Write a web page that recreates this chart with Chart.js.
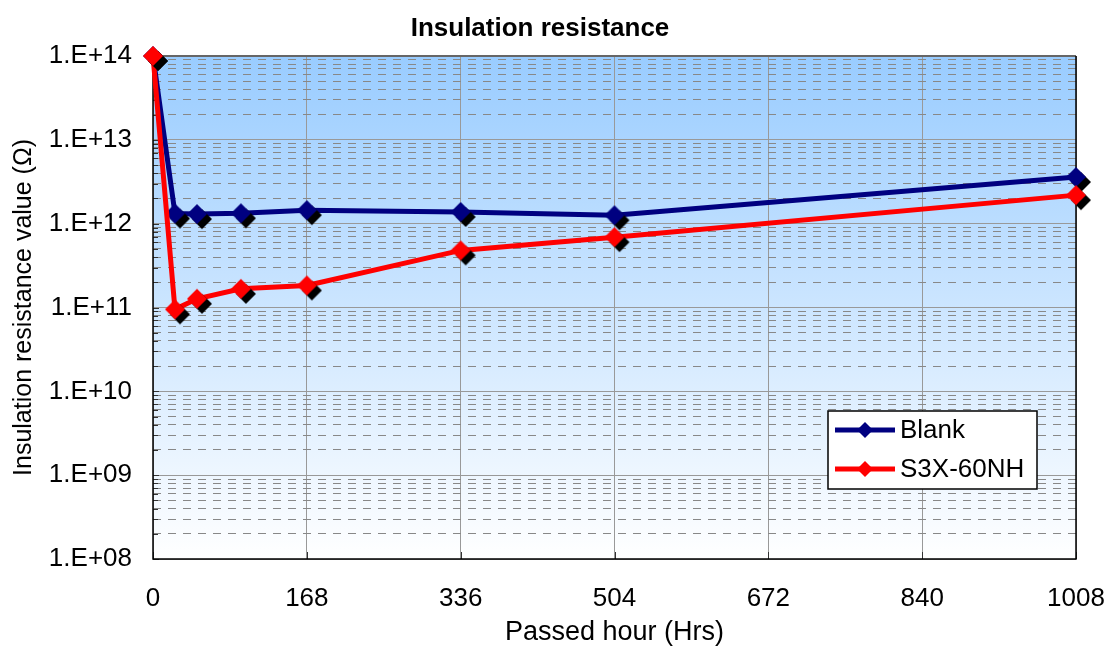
<!DOCTYPE html>
<html>
<head>
<meta charset="utf-8">
<script src="https://cdn.jsdelivr.net/npm/chart.js@4.4.1/dist/chart.umd.min.js"></script>
<style>
  html, body { margin: 0; padding: 0; background: #fff; }
  #wrap { width: 1107px; height: 646px; }
</style>
</head>
<body>
<div id="wrap"><canvas id="irChart"></canvas></div>
<script>
// data
const hours = [0, 24, 48, 96, 168, 336, 504, 1008];
const blankValues = [1e14, 1.32e12, 1.3e12, 1.33e12, 1.45e12, 1.38e12, 1.26e12, 3.6e12];
const s3xValues = [1e14, 9.5e10, 1.27e11, 1.67e11, 1.83e11, 4.8e11, 6.9e11, 2.19e12];
const seriesNames = ['Blank', 'S3X-60NH'];
const seriesColors = ['#000080', '#ff0000'];
const xTicks = [0, 168, 336, 504, 672, 840, 1008];

const FONT = 'Arial, "Liberation Sans", sans-serif';

// diamond marker with a black shadow to the lower right
function makeMarker(color, r, off) {
  const size = 2 * (r + off) + 2;
  const c = document.createElement('canvas');
  c.width = size;
  c.height = size;
  const g = c.getContext('2d');
  const m = size / 2;
  const diamond = (cx, cy) => {
    g.beginPath();
    g.moveTo(cx, cy - r);
    g.lineTo(cx + r, cy);
    g.lineTo(cx, cy + r);
    g.lineTo(cx - r, cy);
    g.closePath();
    g.fill();
  };
  g.fillStyle = '#000';
  diamond(m + off, m + off);
  g.fillStyle = color;
  diamond(m, m);
  return c;
}

const isMajor = (v) => Math.abs(Math.log10(v) - Math.round(Math.log10(v))) < 1e-9;

// background, border and inward tick marks
const frame = {
  id: 'frame',
  beforeDraw(chart) {
    const { ctx, chartArea: a } = chart;
    const grad = ctx.createLinearGradient(0, a.top, 0, a.bottom);
    grad.addColorStop(0, '#99ccff');
    grad.addColorStop(1, '#ffffff');
    ctx.save();
    ctx.fillStyle = grad;
    ctx.fillRect(a.left, a.top, a.right - a.left, a.bottom - a.top);
    ctx.restore();
  },
  beforeDatasetsDraw(chart) {
    const { ctx, chartArea: a, scales } = chart;
    ctx.save();
    ctx.strokeStyle = '#333';
    ctx.lineWidth = 1;
    scales.y.ticks.forEach(t => {
      const y = Math.round(scales.y.getPixelForValue(t.value)) + 0.5;
      ctx.beginPath();
      ctx.moveTo(a.left, y);
      ctx.lineTo(a.left + (isMajor(t.value) ? 6 : 5), y);
      ctx.stroke();
    });
    scales.x.ticks.forEach(t => {
      const x = Math.round(scales.x.getPixelForValue(t.value)) + 0.5;
      ctx.beginPath();
      ctx.moveTo(x, a.bottom);
      ctx.lineTo(x, a.bottom - 7);
      ctx.stroke();
    });
    ctx.strokeStyle = '#666';
    ctx.lineWidth = 2;
    ctx.beginPath();
    ctx.moveTo(a.left, a.top);
    ctx.lineTo(a.right, a.top);
    ctx.stroke();
    ctx.strokeStyle = '#000';
    ctx.lineWidth = 1.5;
    ctx.beginPath();
    ctx.moveTo(a.left, a.top);
    ctx.lineTo(a.left, a.bottom);
    ctx.lineTo(a.right, a.bottom);
    ctx.lineTo(a.right, a.top);
    ctx.stroke();
    ctx.restore();
  },
  afterDraw(chart) {
    const { ctx, chartArea: a } = chart;
    ctx.save();
    // title
    ctx.fillStyle = '#000';
    ctx.font = 'bold 26px ' + FONT;
    ctx.textAlign = 'center';
    ctx.textBaseline = 'middle';
    ctx.fillText('Insulation resistance', 540, 29);

    // legend box inside the plot
    const bx = a.right - 248, by = a.bottom - 148, bw = 209, bh = 78;
    ctx.fillStyle = '#fff';
    ctx.fillRect(bx, by, bw, bh);
    ctx.strokeStyle = '#000';
    ctx.lineWidth = 1.5;
    ctx.strokeRect(bx, by, bw, bh);
    ctx.font = '26px ' + FONT;
    ctx.textAlign = 'left';
    chart.data.datasets.slice().sort((p, q) => p.legendIndex - q.legendIndex).forEach((ds, i) => {
      const y = by + 19 + i * 39;
      ctx.strokeStyle = ds.borderColor;
      ctx.lineWidth = 5;
      ctx.beginPath();
      ctx.moveTo(bx + 7, y);
      ctx.lineTo(bx + 67, y);
      ctx.stroke();
      ctx.fillStyle = ds.borderColor;
      ctx.beginPath();
      ctx.moveTo(bx + 37, y - 8);
      ctx.lineTo(bx + 45, y);
      ctx.lineTo(bx + 37, y + 8);
      ctx.lineTo(bx + 29, y);
      ctx.closePath();
      ctx.fill();
      ctx.fillStyle = '#000';
      ctx.fillText(ds.label, bx + 72, y + 1);
    });
    ctx.restore();
  }
};

new Chart(document.getElementById('irChart').getContext('2d'), {
  type: 'line',
  data: {
    datasets: [
      {
        label: seriesNames[1],
        legendIndex: 1,
        data: hours.map((h, i) => ({ x: h, y: s3xValues[i] })),
        borderColor: seriesColors[1],
        borderWidth: 5,
        pointStyle: makeMarker(seriesColors[1], 10, 5),
        pointRadius: 10,
        tension: 0,
        clip: false,
        order: 0
      },
      {
        label: seriesNames[0],
        legendIndex: 0,
        data: hours.map((h, i) => ({ x: h, y: blankValues[i] })),
        borderColor: seriesColors[0],
        borderWidth: 5,
        pointStyle: makeMarker(seriesColors[0], 10, 5),
        pointRadius: 10,
        tension: 0,
        clip: false,
        order: 1
      }
    ]
  },
  options: {
    responsive: true,
    maintainAspectRatio: false,
    animation: false,
    layout: { padding: { top: 56, right: 31, left: 0, bottom: 0 } },
    plugins: {
      legend: { display: false },
      title: { display: false },
      tooltip: { enabled: false }
    },
    scales: {
      x: {
        type: 'linear',
        min: 0,
        max: 1008,
        afterBuildTicks: (s) => { s.ticks = xTicks.map(v => ({ value: v })); },
        afterFit: (s) => { s.height = 87; s.paddingLeft = 0; s.paddingRight = 0; },
        ticks: {
          color: '#000',
          font: { family: FONT, size: 26 },
          padding: 24,
          autoSkip: false,
          maxRotation: 0,
          callback: (v) => String(v)
        },
        grid: { color: '#999', lineWidth: 1, drawTicks: false },
        border: { display: false },
        title: {
          display: true,
          text: 'Passed hour (Hrs)',
          color: '#000',
          font: { family: FONT, size: 27, lineHeight: 1.0 },
          padding: { top: 0, bottom: 0 }
        }
      },
      y: {
        type: 'logarithmic',
        min: 1e8,
        max: 1e14,
        afterBuildTicks: (s) => {
          const t = [];
          for (let e = 8; e <= 14; e++) {
            for (let m = 1; m <= 9; m++) {
              const v = m * Math.pow(10, e);
              if (v <= 1e14) t.push({ value: v });
            }
          }
          s.ticks = t;
        },
        afterFit: (s) => { s.width = 153; },
        ticks: {
          color: '#000',
          font: { family: FONT, size: 26 },
          padding: 21,
          autoSkip: false,
          callback: (v) => isMajor(v) ? '1.E+' + String(Math.round(Math.log10(v))).padStart(2, '0') : ''
        },
        grid: {
          color: (c) => (c.tick && !isMajor(c.tick.value)) ? '#888' : '#999',
          lineWidth: 1,
          drawTicks: false
        },
        border: {
          display: false,
          dash: (c) => (c.tick && !isMajor(c.tick.value)) ? [8, 7] : []
        },
        title: {
          display: true,
          text: 'Insulation resistance value (Ω)',
          color: '#000',
          font: { family: FONT, size: 25 },
          padding: { top: 9, bottom: 0 }
        }
      }
    }
  },
  plugins: [frame]
});
</script>
</body>
</html>
